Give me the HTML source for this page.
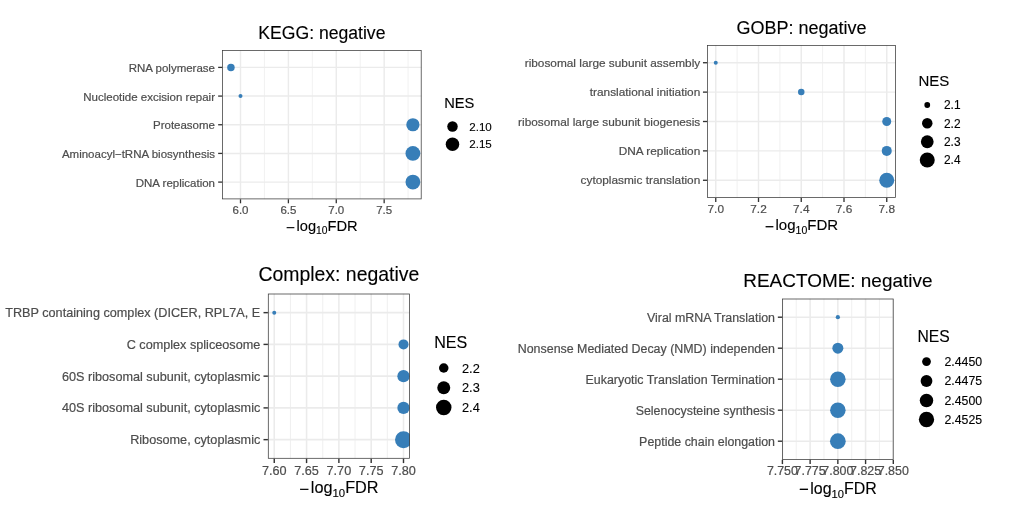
<!DOCTYPE html>
<html lang="en"><head><meta charset="utf-8"><title>GSEA negative enrichment</title>
<style>
html,body{margin:0;padding:0;background:#fff;}
body{width:1028px;height:528px;overflow:hidden;}
svg{display:block;}
svg text{font-family:"Liberation Sans", Arial, Helvetica, sans-serif;}
.ax{fill:#4D4D4D;stroke:#4D4D4D;stroke-width:0.2px;}
.bk{fill:#000;stroke:#000;stroke-width:0.12px;}
</style></head><body>
<svg width="1028" height="528" viewBox="0 0 1028 528">
<rect width="1028" height="528" fill="#fff"/>
<g id="p1">
<clipPath id="c1"><rect x="222.15" y="50.2" width="199.45" height="149.1"/></clipPath>
<rect x="222.15" y="50.2" width="199.45" height="149.1" fill="#fff"/>
<g clip-path="url(#c1)">
<line x1="264.44" y1="50.2" x2="264.44" y2="199.3" stroke="#EBEBEB" stroke-width="0.71"/>
<line x1="312.33" y1="50.2" x2="312.33" y2="199.3" stroke="#EBEBEB" stroke-width="0.71"/>
<line x1="360.21" y1="50.2" x2="360.21" y2="199.3" stroke="#EBEBEB" stroke-width="0.71"/>
<line x1="408.1" y1="50.2" x2="408.1" y2="199.3" stroke="#EBEBEB" stroke-width="0.71"/>
<line x1="240.5" y1="50.2" x2="240.5" y2="199.3" stroke="#EBEBEB" stroke-width="1.42"/>
<line x1="288.39" y1="50.2" x2="288.39" y2="199.3" stroke="#EBEBEB" stroke-width="1.42"/>
<line x1="336.27" y1="50.2" x2="336.27" y2="199.3" stroke="#EBEBEB" stroke-width="1.42"/>
<line x1="384.16" y1="50.2" x2="384.16" y2="199.3" stroke="#EBEBEB" stroke-width="1.42"/>
<line x1="222.15" y1="67.4" x2="421.6" y2="67.4" stroke="#EBEBEB" stroke-width="1.42"/>
<line x1="222.15" y1="96.08" x2="421.6" y2="96.08" stroke="#EBEBEB" stroke-width="1.42"/>
<line x1="222.15" y1="124.75" x2="421.6" y2="124.75" stroke="#EBEBEB" stroke-width="1.42"/>
<line x1="222.15" y1="153.42" x2="421.6" y2="153.42" stroke="#EBEBEB" stroke-width="1.42"/>
<line x1="222.15" y1="182.1" x2="421.6" y2="182.1" stroke="#EBEBEB" stroke-width="1.42"/>
<circle cx="230.92" cy="67.4" r="3.75" fill="#377EB8"/>
<circle cx="240.5" cy="96.08" r="2" fill="#377EB8"/>
<circle cx="412.89" cy="124.75" r="6.6" fill="#377EB8"/>
<circle cx="412.89" cy="153.42" r="7.4" fill="#377EB8"/>
<circle cx="412.89" cy="182.1" r="7.4" fill="#377EB8"/>
</g>
<rect x="222.55" y="50.6" width="198.65" height="148.3" fill="none" stroke="#3a3a3a" stroke-width="0.75"/>
<line x1="218.15" y1="67.4" x2="222.15" y2="67.4" stroke="#333" stroke-width="1.3"/><line x1="218.15" y1="96.08" x2="222.15" y2="96.08" stroke="#333" stroke-width="1.3"/><line x1="218.15" y1="124.75" x2="222.15" y2="124.75" stroke="#333" stroke-width="1.3"/><line x1="218.15" y1="153.42" x2="222.15" y2="153.42" stroke="#333" stroke-width="1.3"/><line x1="218.15" y1="182.1" x2="222.15" y2="182.1" stroke="#333" stroke-width="1.3"/><line x1="240.5" y1="199.3" x2="240.5" y2="203.3" stroke="#333" stroke-width="1.3"/><line x1="288.39" y1="199.3" x2="288.39" y2="203.3" stroke="#333" stroke-width="1.3"/><line x1="336.27" y1="199.3" x2="336.27" y2="203.3" stroke="#333" stroke-width="1.3"/><line x1="384.16" y1="199.3" x2="384.16" y2="203.3" stroke="#333" stroke-width="1.3"/>
<text class="ax" x="215" y="72.02" font-size="11.5" text-anchor="end">RNA polymerase</text>
<text class="ax" x="215" y="100.69" font-size="11.5" text-anchor="end">Nucleotide excision repair</text>
<text class="ax" x="215" y="129.37" font-size="11.5" text-anchor="end">Proteasome</text>
<text class="ax" x="215" y="158.04" font-size="11.5" text-anchor="end">Aminoacyl−tRNA biosynthesis</text>
<text class="ax" x="215" y="186.71" font-size="11.5" text-anchor="end">DNA replication</text>
<text class="ax" x="240.5" y="214" font-size="11.5" text-anchor="middle">6.0</text>
<text class="ax" x="288.39" y="214" font-size="11.5" text-anchor="middle">6.5</text>
<text class="ax" x="336.27" y="214" font-size="11.5" text-anchor="middle">7.0</text>
<text class="ax" x="384.16" y="214" font-size="11.5" text-anchor="middle">7.5</text>
<text class="bk" x="321.88" y="39" font-size="17.6" text-anchor="middle">KEGG: negative</text>
<text class="bk" x="321.88" y="230.8" font-size="14.67" text-anchor="middle"><tspan font-size="15.4" dy="2.05">−</tspan><tspan dx="1.47" dy="-2.05">log</tspan><tspan font-size="10.27" dy="3.23">10</tspan><tspan dy="-3.23">FDR</tspan></text>
<text class="bk" x="444.25" y="108.25" font-size="14.67">NES</text>
<circle cx="452.5" cy="126.5" r="5.25" fill="#000"/><text class="bk" x="469.25" y="130.65" font-size="11.6">2.10</text>
<circle cx="452.5" cy="144.25" r="6.75" fill="#000"/><text class="bk" x="469.25" y="148.4" font-size="11.6">2.15</text>
</g>
<g id="p2">
<clipPath id="c2"><rect x="707.05" y="45.1" width="188.8" height="152.8"/></clipPath>
<rect x="707.05" y="45.1" width="188.8" height="152.8" fill="#fff"/>
<g clip-path="url(#c2)">
<line x1="737.12" y1="45.1" x2="737.12" y2="197.9" stroke="#EBEBEB" stroke-width="0.73"/>
<line x1="779.88" y1="45.1" x2="779.88" y2="197.9" stroke="#EBEBEB" stroke-width="0.73"/>
<line x1="822.62" y1="45.1" x2="822.62" y2="197.9" stroke="#EBEBEB" stroke-width="0.73"/>
<line x1="865.38" y1="45.1" x2="865.38" y2="197.9" stroke="#EBEBEB" stroke-width="0.73"/>
<line x1="715.75" y1="45.1" x2="715.75" y2="197.9" stroke="#EBEBEB" stroke-width="1.46"/>
<line x1="758.5" y1="45.1" x2="758.5" y2="197.9" stroke="#EBEBEB" stroke-width="1.46"/>
<line x1="801.25" y1="45.1" x2="801.25" y2="197.9" stroke="#EBEBEB" stroke-width="1.46"/>
<line x1="844" y1="45.1" x2="844" y2="197.9" stroke="#EBEBEB" stroke-width="1.46"/>
<line x1="886.75" y1="45.1" x2="886.75" y2="197.9" stroke="#EBEBEB" stroke-width="1.46"/>
<line x1="707.05" y1="62.73" x2="895.85" y2="62.73" stroke="#EBEBEB" stroke-width="1.46"/>
<line x1="707.05" y1="92.12" x2="895.85" y2="92.12" stroke="#EBEBEB" stroke-width="1.46"/>
<line x1="707.05" y1="121.5" x2="895.85" y2="121.5" stroke="#EBEBEB" stroke-width="1.46"/>
<line x1="707.05" y1="150.88" x2="895.85" y2="150.88" stroke="#EBEBEB" stroke-width="1.46"/>
<line x1="707.05" y1="180.27" x2="895.85" y2="180.27" stroke="#EBEBEB" stroke-width="1.46"/>
<circle cx="715.75" cy="62.73" r="2" fill="#377EB8"/>
<circle cx="801.25" cy="92.12" r="3.25" fill="#377EB8"/>
<circle cx="886.75" cy="121.5" r="4.5" fill="#377EB8"/>
<circle cx="886.75" cy="150.88" r="5" fill="#377EB8"/>
<circle cx="886.75" cy="180.27" r="7.5" fill="#377EB8"/>
</g>
<rect x="707.45" y="45.5" width="188" height="152" fill="none" stroke="#3a3a3a" stroke-width="0.75"/>
<line x1="702.95" y1="62.73" x2="707.05" y2="62.73" stroke="#333" stroke-width="1.34"/><line x1="702.95" y1="92.12" x2="707.05" y2="92.12" stroke="#333" stroke-width="1.34"/><line x1="702.95" y1="121.5" x2="707.05" y2="121.5" stroke="#333" stroke-width="1.34"/><line x1="702.95" y1="150.88" x2="707.05" y2="150.88" stroke="#333" stroke-width="1.34"/><line x1="702.95" y1="180.27" x2="707.05" y2="180.27" stroke="#333" stroke-width="1.34"/><line x1="715.75" y1="197.9" x2="715.75" y2="202" stroke="#333" stroke-width="1.34"/><line x1="758.5" y1="197.9" x2="758.5" y2="202" stroke="#333" stroke-width="1.34"/><line x1="801.25" y1="197.9" x2="801.25" y2="202" stroke="#333" stroke-width="1.34"/><line x1="844" y1="197.9" x2="844" y2="202" stroke="#333" stroke-width="1.34"/><line x1="886.75" y1="197.9" x2="886.75" y2="202" stroke="#333" stroke-width="1.34"/>
<text class="ax" x="700.25" y="66.87" font-size="11.84" text-anchor="end">ribosomal large subunit assembly</text>
<text class="ax" x="700.25" y="96.25" font-size="11.84" text-anchor="end">translational initiation</text>
<text class="ax" x="700.25" y="125.64" font-size="11.84" text-anchor="end">ribosomal large subunit biogenesis</text>
<text class="ax" x="700.25" y="155.02" font-size="11.84" text-anchor="end">DNA replication</text>
<text class="ax" x="700.25" y="184.41" font-size="11.84" text-anchor="end">cytoplasmic translation</text>
<text class="ax" x="715.75" y="212.9" font-size="11.84" text-anchor="middle">7.0</text>
<text class="ax" x="758.5" y="212.9" font-size="11.84" text-anchor="middle">7.2</text>
<text class="ax" x="801.25" y="212.9" font-size="11.84" text-anchor="middle">7.4</text>
<text class="ax" x="844" y="212.9" font-size="11.84" text-anchor="middle">7.6</text>
<text class="ax" x="886.75" y="212.9" font-size="11.84" text-anchor="middle">7.8</text>
<text class="bk" x="801.45" y="33.5" font-size="18" text-anchor="middle">GOBP: negative</text>
<text class="bk" x="801.45" y="230.3" font-size="15" text-anchor="middle"><tspan font-size="15.75" dy="2.1">−</tspan><tspan dx="1.5" dy="-2.1">log</tspan><tspan font-size="10.5" dy="3.3">10</tspan><tspan dy="-3.3">FDR</tspan></text>
<text class="bk" x="918.5" y="86.25" font-size="15">NES</text>
<circle cx="927.25" cy="105" r="2.88" fill="#000"/><text class="bk" x="944" y="109.26" font-size="11.9">2.1</text>
<circle cx="927.25" cy="123.25" r="5.25" fill="#000"/><text class="bk" x="944" y="127.51" font-size="11.9">2.2</text>
<circle cx="927.25" cy="141.75" r="6.38" fill="#000"/><text class="bk" x="944" y="146.01" font-size="11.9">2.3</text>
<circle cx="927.25" cy="160" r="7.5" fill="#000"/><text class="bk" x="944" y="164.26" font-size="11.9">2.4</text>
</g>
<g id="p3">
<clipPath id="c3"><rect x="267.9" y="293.6" width="141.95" height="165.1"/></clipPath>
<rect x="267.9" y="293.6" width="141.95" height="165.1" fill="#fff"/>
<g clip-path="url(#c3)">
<line x1="290.41" y1="293.6" x2="290.41" y2="458.7" stroke="#EBEBEB" stroke-width="0.78"/>
<line x1="322.72" y1="293.6" x2="322.72" y2="458.7" stroke="#EBEBEB" stroke-width="0.78"/>
<line x1="355.03" y1="293.6" x2="355.03" y2="458.7" stroke="#EBEBEB" stroke-width="0.78"/>
<line x1="387.34" y1="293.6" x2="387.34" y2="458.7" stroke="#EBEBEB" stroke-width="0.78"/>
<line x1="274.25" y1="293.6" x2="274.25" y2="458.7" stroke="#EBEBEB" stroke-width="1.56"/>
<line x1="306.56" y1="293.6" x2="306.56" y2="458.7" stroke="#EBEBEB" stroke-width="1.56"/>
<line x1="338.88" y1="293.6" x2="338.88" y2="458.7" stroke="#EBEBEB" stroke-width="1.56"/>
<line x1="371.19" y1="293.6" x2="371.19" y2="458.7" stroke="#EBEBEB" stroke-width="1.56"/>
<line x1="403.5" y1="293.6" x2="403.5" y2="458.7" stroke="#EBEBEB" stroke-width="1.56"/>
<line x1="267.9" y1="312.65" x2="409.85" y2="312.65" stroke="#EBEBEB" stroke-width="1.56"/>
<line x1="267.9" y1="344.4" x2="409.85" y2="344.4" stroke="#EBEBEB" stroke-width="1.56"/>
<line x1="267.9" y1="376.15" x2="409.85" y2="376.15" stroke="#EBEBEB" stroke-width="1.56"/>
<line x1="267.9" y1="407.9" x2="409.85" y2="407.9" stroke="#EBEBEB" stroke-width="1.56"/>
<line x1="267.9" y1="439.65" x2="409.85" y2="439.65" stroke="#EBEBEB" stroke-width="1.56"/>
<circle cx="274.25" cy="312.65" r="2" fill="#377EB8"/>
<circle cx="403.5" cy="344.4" r="5" fill="#377EB8"/>
<circle cx="403.5" cy="376.15" r="6.15" fill="#377EB8"/>
<circle cx="403.5" cy="407.9" r="6.15" fill="#377EB8"/>
<circle cx="403.5" cy="439.65" r="8.5" fill="#377EB8"/>
</g>
<rect x="268.3" y="294" width="141.15" height="164.3" fill="none" stroke="#3a3a3a" stroke-width="0.75"/>
<line x1="263.5" y1="312.65" x2="267.9" y2="312.65" stroke="#333" stroke-width="1.43"/><line x1="263.5" y1="344.4" x2="267.9" y2="344.4" stroke="#333" stroke-width="1.43"/><line x1="263.5" y1="376.15" x2="267.9" y2="376.15" stroke="#333" stroke-width="1.43"/><line x1="263.5" y1="407.9" x2="267.9" y2="407.9" stroke="#333" stroke-width="1.43"/><line x1="263.5" y1="439.65" x2="267.9" y2="439.65" stroke="#333" stroke-width="1.43"/><line x1="274.25" y1="458.7" x2="274.25" y2="463.1" stroke="#333" stroke-width="1.43"/><line x1="306.56" y1="458.7" x2="306.56" y2="463.1" stroke="#333" stroke-width="1.43"/><line x1="338.88" y1="458.7" x2="338.88" y2="463.1" stroke="#333" stroke-width="1.43"/><line x1="371.19" y1="458.7" x2="371.19" y2="463.1" stroke="#333" stroke-width="1.43"/><line x1="403.5" y1="458.7" x2="403.5" y2="463.1" stroke="#333" stroke-width="1.43"/>
<text class="ax" x="260.3" y="317.18" font-size="12.66" text-anchor="end">TRBP containing complex (DICER, RPL7A, E</text>
<text class="ax" x="260.3" y="348.93" font-size="12.66" text-anchor="end">C complex spliceosome</text>
<text class="ax" x="260.3" y="380.68" font-size="12.66" text-anchor="end">60S ribosomal subunit, cytoplasmic</text>
<text class="ax" x="260.3" y="412.43" font-size="12.66" text-anchor="end">40S ribosomal subunit, cytoplasmic</text>
<text class="ax" x="260.3" y="444.18" font-size="12.66" text-anchor="end">Ribosome, cytoplasmic</text>
<text class="ax" x="274.25" y="475.2" font-size="12.66" text-anchor="middle">7.60</text>
<text class="ax" x="306.56" y="475.2" font-size="12.66" text-anchor="middle">7.65</text>
<text class="ax" x="338.88" y="475.2" font-size="12.66" text-anchor="middle">7.70</text>
<text class="ax" x="371.19" y="475.2" font-size="12.66" text-anchor="middle">7.75</text>
<text class="ax" x="403.5" y="475.2" font-size="12.66" text-anchor="middle">7.80</text>
<text class="bk" x="338.88" y="281" font-size="19.45" text-anchor="middle">Complex: negative</text>
<text class="bk" x="338.88" y="493.4" font-size="16.25" text-anchor="middle"><tspan font-size="17.06" dy="1.62">−</tspan><tspan dx="1.62" dy="-1.62">log</tspan><tspan font-size="11.38" dy="3.58">10</tspan><tspan dy="-3.58">FDR</tspan></text>
<text class="bk" x="434.25" y="348" font-size="16.1">NES</text>
<circle cx="443.75" cy="368" r="4.75" fill="#000"/><text class="bk" x="462" y="372.58" font-size="12.8">2.2</text>
<circle cx="443.75" cy="387.75" r="6.5" fill="#000"/><text class="bk" x="462" y="392.33" font-size="12.8">2.3</text>
<circle cx="443.75" cy="407.5" r="7.75" fill="#000"/><text class="bk" x="462" y="412.08" font-size="12.8">2.4</text>
</g>
<g id="p4">
<clipPath id="c4"><rect x="782.15" y="298.6" width="111.45" height="161.2"/></clipPath>
<rect x="782.15" y="298.6" width="111.45" height="161.2" fill="#fff"/>
<g clip-path="url(#c4)">
<line x1="796.26" y1="298.6" x2="796.26" y2="459.8" stroke="#EBEBEB" stroke-width="0.77"/>
<line x1="823.99" y1="298.6" x2="823.99" y2="459.8" stroke="#EBEBEB" stroke-width="0.77"/>
<line x1="851.71" y1="298.6" x2="851.71" y2="459.8" stroke="#EBEBEB" stroke-width="0.77"/>
<line x1="879.44" y1="298.6" x2="879.44" y2="459.8" stroke="#EBEBEB" stroke-width="0.77"/>
<line x1="782.4" y1="298.6" x2="782.4" y2="459.8" stroke="#EBEBEB" stroke-width="1.53"/>
<line x1="810.13" y1="298.6" x2="810.13" y2="459.8" stroke="#EBEBEB" stroke-width="1.53"/>
<line x1="837.85" y1="298.6" x2="837.85" y2="459.8" stroke="#EBEBEB" stroke-width="1.53"/>
<line x1="865.58" y1="298.6" x2="865.58" y2="459.8" stroke="#EBEBEB" stroke-width="1.53"/>
<line x1="893.3" y1="298.6" x2="893.3" y2="459.8" stroke="#EBEBEB" stroke-width="1.53"/>
<line x1="782.15" y1="317.2" x2="893.6" y2="317.2" stroke="#EBEBEB" stroke-width="1.53"/>
<line x1="782.15" y1="348.2" x2="893.6" y2="348.2" stroke="#EBEBEB" stroke-width="1.53"/>
<line x1="782.15" y1="379.2" x2="893.6" y2="379.2" stroke="#EBEBEB" stroke-width="1.53"/>
<line x1="782.15" y1="410.2" x2="893.6" y2="410.2" stroke="#EBEBEB" stroke-width="1.53"/>
<line x1="782.15" y1="441.2" x2="893.6" y2="441.2" stroke="#EBEBEB" stroke-width="1.53"/>
<circle cx="837.85" cy="317.2" r="2.1" fill="#377EB8"/>
<circle cx="837.85" cy="348.2" r="5.5" fill="#377EB8"/>
<circle cx="837.85" cy="379.2" r="7.75" fill="#377EB8"/>
<circle cx="837.85" cy="410.2" r="7.75" fill="#377EB8"/>
<circle cx="837.85" cy="441.2" r="7.88" fill="#377EB8"/>
</g>
<rect x="782.55" y="299" width="110.65" height="160.4" fill="none" stroke="#3a3a3a" stroke-width="0.75"/>
<line x1="777.85" y1="317.2" x2="782.15" y2="317.2" stroke="#333" stroke-width="1.4"/><line x1="777.85" y1="348.2" x2="782.15" y2="348.2" stroke="#333" stroke-width="1.4"/><line x1="777.85" y1="379.2" x2="782.15" y2="379.2" stroke="#333" stroke-width="1.4"/><line x1="777.85" y1="410.2" x2="782.15" y2="410.2" stroke="#333" stroke-width="1.4"/><line x1="777.85" y1="441.2" x2="782.15" y2="441.2" stroke="#333" stroke-width="1.4"/><line x1="782.4" y1="459.8" x2="782.4" y2="464.1" stroke="#333" stroke-width="1.4"/><line x1="810.13" y1="459.8" x2="810.13" y2="464.1" stroke="#333" stroke-width="1.4"/><line x1="837.85" y1="459.8" x2="837.85" y2="464.1" stroke="#333" stroke-width="1.4"/><line x1="865.58" y1="459.8" x2="865.58" y2="464.1" stroke="#333" stroke-width="1.4"/><line x1="893.3" y1="459.8" x2="893.3" y2="464.1" stroke="#333" stroke-width="1.4"/>
<text class="ax" x="775" y="321.85" font-size="12.42" text-anchor="end">Viral mRNA Translation</text>
<text class="ax" x="775" y="352.85" font-size="12.42" text-anchor="end">Nonsense Mediated Decay (NMD) independen</text>
<text class="ax" x="775" y="383.85" font-size="12.42" text-anchor="end">Eukaryotic Translation Termination</text>
<text class="ax" x="775" y="414.85" font-size="12.42" text-anchor="end">Selenocysteine synthesis</text>
<text class="ax" x="775" y="445.85" font-size="12.42" text-anchor="end">Peptide chain elongation</text>
<text class="ax" x="782.4" y="475.3" font-size="12.42" text-anchor="middle">7.750</text>
<text class="ax" x="810.13" y="475.3" font-size="12.42" text-anchor="middle">7.775</text>
<text class="ax" x="837.85" y="475.3" font-size="12.42" text-anchor="middle">7.800</text>
<text class="ax" x="865.58" y="475.3" font-size="12.42" text-anchor="middle">7.825</text>
<text class="ax" x="893.3" y="475.3" font-size="12.42" text-anchor="middle">7.850</text>
<text class="bk" x="837.88" y="286.5" font-size="18.95" text-anchor="middle">REACTOME: negative</text>
<text class="bk" x="837.88" y="494" font-size="15.95" text-anchor="middle"><tspan font-size="16.75" dy="0.96">−</tspan><tspan dx="1.59" dy="-0.96">log</tspan><tspan font-size="11.16" dy="3.51">10</tspan><tspan dy="-3.51">FDR</tspan></text>
<text class="bk" x="917.5" y="342" font-size="15.7">NES</text>
<circle cx="926.5" cy="361.6" r="4.38" fill="#000"/><text class="bk" x="944.5" y="366" font-size="12.3">2.4450</text>
<circle cx="926.5" cy="381" r="5.88" fill="#000"/><text class="bk" x="944.5" y="385.4" font-size="12.3">2.4475</text>
<circle cx="926.5" cy="400.4" r="6.75" fill="#000"/><text class="bk" x="944.5" y="404.8" font-size="12.3">2.4500</text>
<circle cx="926.5" cy="419.5" r="7.65" fill="#000"/><text class="bk" x="944.5" y="423.9" font-size="12.3">2.4525</text>
</g>
</svg>
</body></html>
